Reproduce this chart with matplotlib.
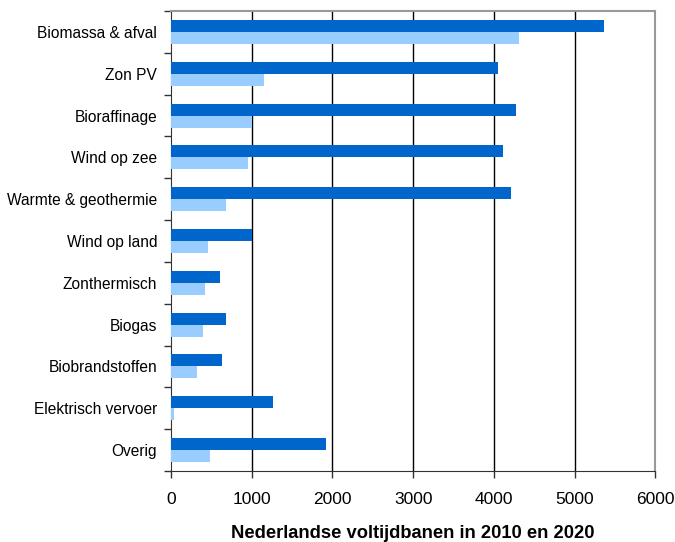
import numpy as np
import matplotlib.pyplot as plt

plt.rcParams['font.family'] = ['Liberation Sans', 'DejaVu Sans']

# categorieen van boven naar beneden
categories = ['Biomassa & afval', 'Zon PV', 'Bioraffinage', 'Wind op zee',
              'Warmte & geothermie', 'Wind op land', 'Zonthermisch', 'Biogas',
              'Biobrandstoffen', 'Elektrisch vervoer', 'Overig']
banen_2020 = [5360, 4050, 4270, 4110, 4210, 1000, 605, 680, 630, 1260, 1920]
banen_2010 = [4310, 1150, 1000, 950, 680, 460, 420, 395, 320, 35, 480]
xticks = [0, 1000, 2000, 3000, 4000, 5000, 6000]

fig = plt.figure(figsize=(6.75, 5.42), dpi=100)
ax = fig.add_axes([0.2533, 0.131, 0.7177, 0.8487])

y = np.arange(len(categories))
h = 0.286
ax.barh(y - h / 2, banen_2020, height=h, color='#0066CC', zorder=3)
ax.barh(y + h / 2, banen_2010, height=h, color='#99CCFF', zorder=3)

ax.set_xlim(0, 6000)
ax.set_ylim(len(categories) - 0.5, -0.5)
ax.set_xticks(xticks)
ax.set_xticklabels([str(t) for t in xticks], fontsize=12.5)
ax.tick_params(axis='x', length=5, width=1, color='#333333', pad=10)

ax.set_yticks(y)
ax.set_yticklabels(categories, fontsize=11.2)
ax.tick_params(axis='y', which='major', length=0, pad=10)
ax.set_yticks(np.arange(len(categories) + 1) - 0.5, minor=True)
ax.tick_params(axis='y', which='minor', length=5, width=1, color='#333333')

for xv in xticks[1:-1]:
    ax.axvline(xv, color='black', lw=1, zorder=1)

for s in ['top', 'right']:
    ax.spines[s].set_color('#999999')
    ax.spines[s].set_linewidth(1.5)
ax.spines['left'].set_color('#333333')
ax.spines['bottom'].set_color('#333333')

ax.set_xlabel('Nederlandse voltijdbanen in 2010 en 2020', fontsize=13.2,
              fontweight='bold', labelpad=13)

fig.savefig('out.png', dpi=100)
